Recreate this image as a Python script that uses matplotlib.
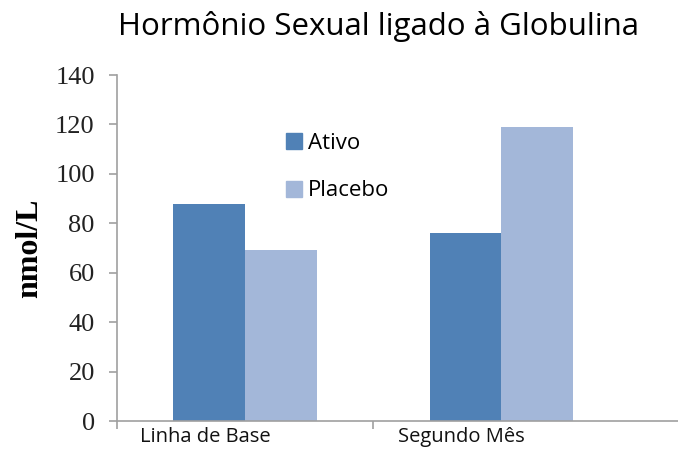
import matplotlib
matplotlib.use("Agg")
import matplotlib.pyplot as plt
import numpy as np
from matplotlib.lines import Line2D

# ---- data -------------------------------------------------------------------
categories = ["Linha de Base", "Segundo Mês"]
ativo = [88, 76]
placebo = [69, 119]
series_names = ["Ativo", "Placebo"]
colors = ["#5081B6", "#A3B7D9"]
yticks = [0, 20, 40, 60, 80, 100, 120, 140]

fig = plt.figure(figsize=(6.78, 4.5), dpi=100)
ax = fig.add_axes([117 / 678, 1 - 421 / 450, 1 - 117 / 678, (421 - 75) / 450])

x = np.arange(len(categories))
w = 0.28
ax.bar(x - w / 2, ativo, width=w, color=colors[0], zorder=2)
ax.bar(x + w / 2, placebo, width=w, color=colors[1], zorder=2)

ax.set_xlim(-0.5, 1.69)
ax.set_ylim(0, 140)
ax.set_yticks(yticks)
ax.set_yticklabels([str(v) for v in yticks], family="Liberation Serif",
                   fontsize=19, color="#222222")

# category labels sit a little left of the bar groups in the original
ax.set_xticks(x - 0.155)
ax.set_xticklabels(categories, family="Open Sans", fontsize=14.5, color="#111111")
ax.tick_params(axis="x", which="major", length=0, pad=4)
ax.set_xticks([-0.5, 0.5], minor=True)
ax.tick_params(axis="x", which="minor", length=6, color="#A0A0A0", width=1.2)
ax.tick_params(axis="y", length=6, color="#A0A0A0", width=1.2, pad=10)

for side in ("top", "right"):
    ax.spines[side].set_visible(False)
for side in ("left", "bottom"):
    ax.spines[side].set_color("#A0A0A0")
    ax.spines[side].set_linewidth(1.2)

ax.set_ylabel("nmol/L", family="Liberation Serif", fontweight="bold",
              fontsize=23, labelpad=8)

fig.suptitle("Hormônio Sexual ligado à Globulina", family="Open Sans",
             fontsize=22.5, x=378 / 678, y=1 - 26 / 450, va="center")

handles = [Line2D([0], [0], marker="s", linestyle="none", markersize=11,
                  markerfacecolor=c, markeredgecolor=c) for c in colors]
leg = ax.legend(handles, series_names, loc="center left",
                bbox_to_anchor=(266 / 678, 1 - 167 / 450),
                bbox_transform=fig.transFigure, frameon=False,
                prop={"family": "Open Sans", "size": 16},
                handlelength=0.7, handletextpad=0.3, labelspacing=1.2)

fig.savefig("out.png", dpi=100)
